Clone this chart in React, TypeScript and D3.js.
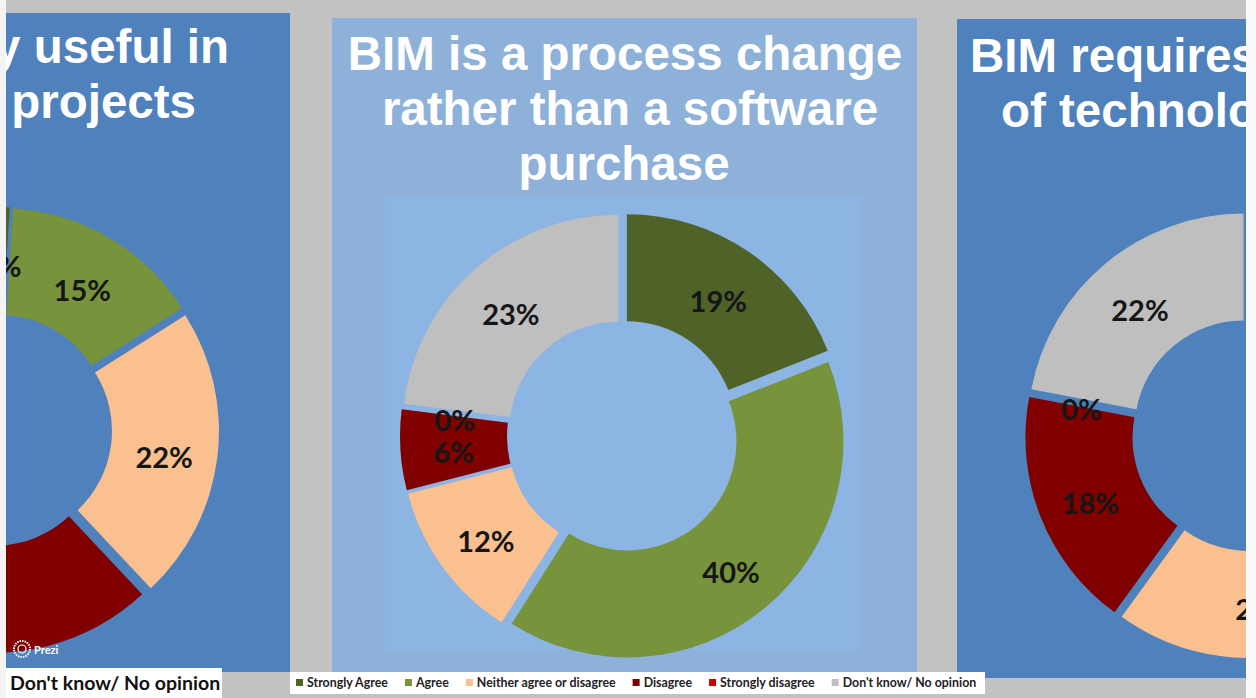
import * as d3 from 'd3'
import React from 'react'

// survey answers, same order in every panel
const categories = ['Strongly Agree', 'Agree', 'Neither agree or disagree', 'Disagree', 'Strongly disagree', "Don't know/ No opinion"]
const colors = ['#4f6228', '#77933c', '#fac090', '#800000', '#d00000', '#bfbfbf']

// percentages per panel (left and right are cropped in the picture)
const leftValues = [1, 15, 22, 32, 5, 25]
const middleValues = [19, 40, 12, 6, 0, 23]
const rightValues = [10, 27, 23, 18, 0, 22]

const leftTitle = ['y useful in', 'projects']
const middleTitle = ['BIM is a process change', 'rather than a software', 'purchase']
const rightTitle = ['BIM requires', 'of technolo']

const W = 1256
const H = 698
const OUTER = 216
const INNER = 109
const EXPLODE = 7

const panels = [
  { key: 'l', x: 6, y: 13, w: 284, h: 659, fill: '#4f81bd', values: leftValues, cx: -4, cy: 430,
    title: leftTitle, anchor: 'end', tx: [229, 196], ty: [63, 118] },
  { key: 'm', x: 332, y: 18, w: 585, h: 654, fill: '#8eb1d9', values: middleValues, cx: 623, cy: 436,
    title: middleTitle, anchor: 'middle', tx: [625, 630, 624], ty: [70, 125, 180] },
  { key: 'r', x: 957, y: 19, w: 289, h: 659, fill: '#4f81bd', values: rightValues, cx: 1248, cy: 435,
    title: rightTitle, anchor: 'start', tx: [970, 1001], ty: [72, 127] },
]

const App = () => {
  const ref = React.useRef<SVGSVGElement>(null)

  React.useEffect(() => {
    const svg = d3.select(ref.current)
    svg.selectAll('*').remove()

    svg.append('rect').attr('width', W).attr('height', H).attr('fill', '#c2c2c2')
    svg.append('rect').attr('x', 0).attr('width', 6).attr('height', H).attr('fill', '#f4f4f4')
    svg.append('rect').attr('x', 1246).attr('width', 10).attr('height', H).attr('fill', '#fafafa')

    const pie = d3.pie<number>().sort(null).value(d => d)
    const arc = d3.arc<d3.PieArcDatum<number>>().innerRadius(INNER).outerRadius(OUTER)
    const defs = svg.append('defs')

    panels.forEach(p => {
      defs.append('clipPath').attr('id', 'clip-' + p.key)
        .append('rect').attr('x', p.x).attr('y', p.y).attr('width', p.w).attr('height', p.h)

      const g = svg.append('g').attr('clip-path', `url(#clip-${p.key})`)
      g.append('rect').attr('x', p.x).attr('y', p.y).attr('width', p.w).attr('height', p.h).attr('fill', p.fill)

      if (p.key === 'm') {
        g.append('rect').attr('x', 385).attr('y', 196).attr('width', 476).attr('height', 454).attr('fill', '#8cb5e3')
      }

      g.selectAll('text.title')
        .data(p.title)
        .join('text')
        .attr('class', 'title')
        .attr('x', (_, i) => p.tx[i])
        .attr('y', (_, i) => p.ty[i])
        .attr('text-anchor', p.anchor)
        .attr('fill', '#fff')
        .attr('font-family', '"Liberation Sans", Arial, sans-serif')
        .attr('font-weight', 700)
        .attr('font-size', 47.5)
        .text(d => d)

      const arcs = pie(p.values)
      const shift = (d: d3.PieArcDatum<number>) => {
        const a = (d.startAngle + d.endAngle) / 2
        return [Math.sin(a) * EXPLODE, -Math.cos(a) * EXPLODE]
      }
      const donut = g.append('g').attr('transform', `translate(${p.cx},${p.cy})`)

      donut.selectAll('path')
        .data(arcs.filter(d => d.value > 0))
        .join('path')
        .attr('d', arc)
        .attr('fill', d => colors[d.index])
        .attr('transform', d => `translate(${shift(d)})`)

      donut.selectAll('text')
        .data(arcs)
        .join('text')
        .attr('x', d => arc.centroid(d)[0] + shift(d)[0])
        .attr('y', d => arc.centroid(d)[1] + shift(d)[1] + 5)
        .attr('text-anchor', 'middle')
        .attr('dominant-baseline', 'central')
        .attr('fill', '#161616')
        .attr('font-family', 'Lato, sans-serif')
        .attr('font-weight', 700)
        .attr('font-size', 29)
        .text(d => `${d.value}%`)
    })

    // prezi badge
    const badge = svg.append('g')
    badge.append('circle').attr('cx', 22).attr('cy', 649).attr('r', 8)
      .attr('fill', 'none').attr('stroke', '#fff').attr('stroke-width', 2).attr('stroke-dasharray', '1.5 1')
    badge.append('circle').attr('cx', 22).attr('cy', 649).attr('r', 4)
      .attr('fill', 'none').attr('stroke', '#fff').attr('stroke-width', 1.2)
    badge.append('text').attr('x', 34).attr('y', 654).attr('fill', '#fff')
      .attr('font-family', 'Lato, sans-serif').attr('font-weight', 700).attr('font-size', 11).text('Prezi')

    // cropped legend entry of the left panel
    svg.append('rect').attr('x', 6).attr('y', 668).attr('width', 216).attr('height', 30).attr('fill', '#fff')
    svg.append('text').attr('x', 10).attr('y', 690).attr('fill', '#111')
      .attr('font-family', 'Lato, sans-serif').attr('font-weight', 700).attr('font-size', 19.5)
      .text(categories[5])

    // legend of the middle panel
    svg.append('rect').attr('x', 290).attr('y', 672).attr('width', 695).attr('height', 22).attr('fill', '#fff')
    let lx = 296
    categories.forEach((c, i) => {
      svg.append('rect').attr('x', lx).attr('y', 679).attr('width', 7).attr('height', 7).attr('fill', colors[i])
      const t = svg.append('text').attr('x', lx + 11).attr('y', 687).attr('fill', '#222')
        .attr('font-family', 'Lato, sans-serif').attr('font-weight', 700).attr('font-size', 12.4)
        .text(c)
      const tw = (t.node() as SVGTextElement).getComputedTextLength()
      lx += 11 + tw + 17
    })
  }, [])

  return <svg ref={ref} width={W} height={H} style={{ position: 'absolute', left: 0, top: 0, display: 'block' }} />
}

export default App
